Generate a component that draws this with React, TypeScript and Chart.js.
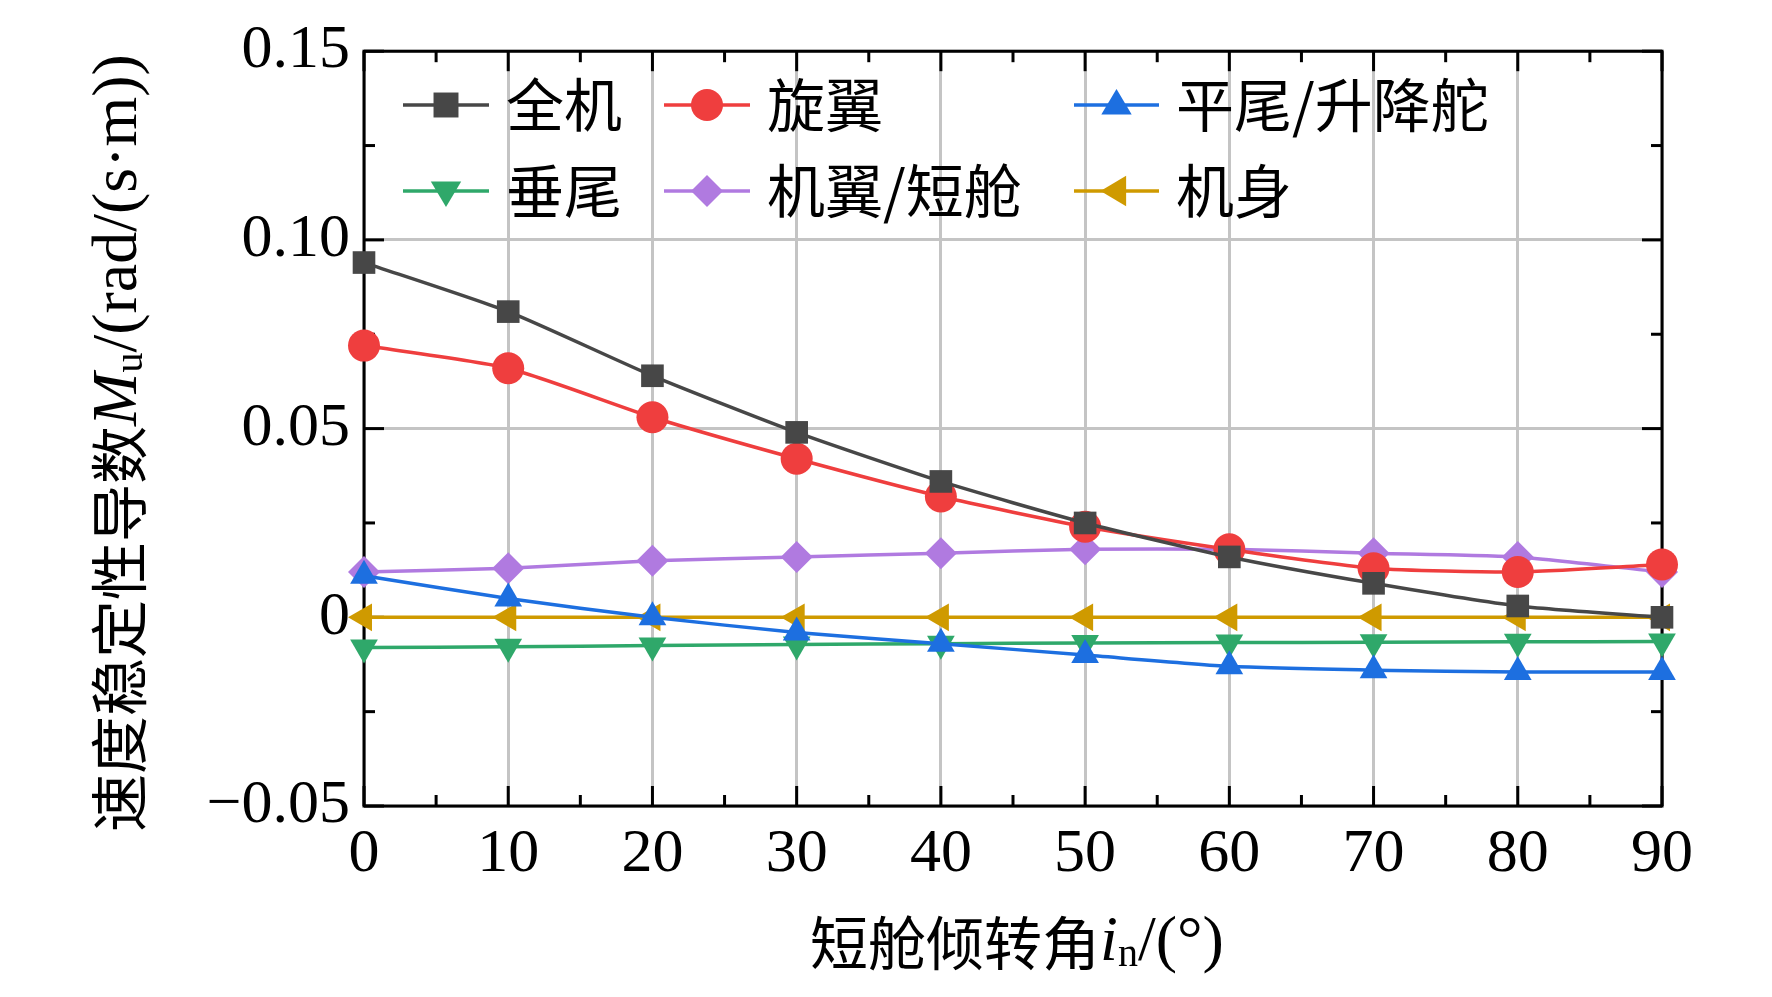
import React, { useEffect, useRef } from "react";
import { Chart, registerables } from "chart.js";
Chart.register(...registerables);

const angles = [0, 10, 20, 30, 40, 50, 60, 70, 80, 90];
const whole = [0.094, 0.081, 0.064, 0.049, 0.036, 0.025, 0.016, 0.009, 0.003, 0.0];
const rotor = [0.072, 0.066, 0.053, 0.042, 0.032, 0.024, 0.018, 0.013, 0.012, 0.014];
const htail = [0.011, 0.005, 0.0, -0.004, -0.007, -0.01, -0.013, -0.014, -0.0145, -0.0145];
const vtail = [-0.008, -0.0078, -0.0075, -0.0072, -0.007, -0.0068, -0.0067, -0.0066, -0.0065, -0.0064];
const wing = [0.012, 0.013, 0.015, 0.016, 0.017, 0.018, 0.018, 0.017, 0.016, 0.012];
const body = [0, 0, 0, 0, 0, 0, 0, 0, 0, 0];
const names = ["全机", "旋翼", "平尾/升降舵", "垂尾", "机翼/短舱", "机身"];
const colors = ["#474747", "#ef3e3e", "#1d6fe0", "#2fa86a", "#b07ae0", "#cf9a00"];
const styles = ["rect", "circle", "triangle", "triangle", "rectRot", "triangle"];
const rotations = [0, 0, 0, 180, 0, -90];
const yTicks = [-0.05, 0, 0.05, 0.1, 0.15];

const SERIF = "'Liberation Serif', 'Times New Roman', serif";
const CJK = "'Noto Sans CJK SC', sans-serif";
const R = 16;

function drawPt(ctx: any, style: string, rot: number, x: number, y: number, col: string) {
  ctx.save();
  ctx.fillStyle = col;
  ctx.translate(x, y);
  ctx.rotate((rot * Math.PI) / 180);
  ctx.beginPath();
  if (style === "circle") ctx.arc(0, 0, R, 0, Math.PI * 2);
  else if (style === "rect") { const s = R * 0.78; ctx.rect(-s, -s, 2 * s, 2 * s); }
  else if (style === "rectRot") { ctx.moveTo(0, -R); ctx.lineTo(R, 0); ctx.lineTo(0, R); ctx.lineTo(-R, 0); ctx.closePath(); }
  else { ctx.moveTo(0, -R); ctx.lineTo(R * 0.95, R * 0.6); ctx.lineTo(-R * 0.95, R * 0.6); ctx.closePath(); }
  ctx.fill();
  ctx.restore();
}

function drawParts(ctx: any, parts: [string, string, number][], cx: number, cy: number) {
  let w = 0;
  for (const p of parts) { ctx.font = p[1]; w += ctx.measureText(p[0]).width; }
  let x = cx - w / 2;
  ctx.textBaseline = "middle"; ctx.textAlign = "left"; ctx.fillStyle = "#000";
  for (const p of parts) { ctx.font = p[1]; ctx.fillText(p[0], x, cy + p[2]); x += ctx.measureText(p[0]).width; }
}

export default function App() {
  const ref = useRef<HTMLCanvasElement>(null);
  useEffect(() => {
    const series = [whole, rotor, htail, vtail, wing, body];
    const decor = {
      id: "decor",
      beforeDatasetsDraw(chart: any) {
        const { ctx, chartArea: a, scales } = chart;
        const xs = scales.x, ys = scales.y;
        ctx.save();
        ctx.strokeStyle = "#000";
        ctx.lineWidth = 3;
        ctx.strokeRect(a.left, a.top, a.right - a.left, a.bottom - a.top);
        for (let v = 0; v <= 90; v += 5) {
          const px = xs.getPixelForValue(v);
          const len = v % 10 === 0 ? 20 : 11;
          ctx.beginPath(); ctx.moveTo(px, a.bottom); ctx.lineTo(px, a.bottom - len); ctx.stroke();
          ctx.beginPath(); ctx.moveTo(px, a.top); ctx.lineTo(px, a.top + len); ctx.stroke();
        }
        for (let i = 0; i <= 8; i++) {
          const v = -0.05 + i * 0.025;
          const py = ys.getPixelForValue(v);
          const len = i % 2 === 0 ? 20 : 11;
          ctx.beginPath(); ctx.moveTo(a.left, py); ctx.lineTo(a.left + len, py); ctx.stroke();
          ctx.beginPath(); ctx.moveTo(a.right, py); ctx.lineTo(a.right - len, py); ctx.stroke();
        }
        ctx.restore();
      },
      afterDraw(chart: any) {
        const { ctx } = chart;
        ctx.save();
        const rows = [105, 191];
        const cols = [[403, 489, 506], [664, 750, 767], [1074, 1159, 1176]];
        for (let i = 0; i < 6; i++) {
          const r = rows[Math.floor(i / 3)], c = cols[i % 3];
          ctx.strokeStyle = colors[i]; ctx.lineWidth = 3.5;
          ctx.beginPath(); ctx.moveTo(c[0], r); ctx.lineTo(c[1], r); ctx.stroke();
          drawPt(ctx, styles[i], rotations[i], (c[0] + c[1]) / 2, r, colors[i]);
          ctx.fillStyle = "#000";
          ctx.font = `58px ${CJK}`;
          ctx.textBaseline = "middle";
          ctx.textAlign = "left";
          ctx.fillText(names[i], c[2], r);
        }
        drawParts(ctx, [
          ["短舱倾转角", `58px ${CJK}`, 0],
          ["i", `italic 64px ${SERIF}`, 0],
          ["n", `40px ${SERIF}`, 12],
          ["/(°)", `64px ${SERIF}`, 0],
        ], 1017, 943);
        ctx.translate(119, 443);
        ctx.rotate(-Math.PI / 2);
        drawParts(ctx, [
          ["速度稳定性导数", `58px ${CJK}`, 0],
          ["M", `italic 64px ${SERIF}`, 0],
          ["u", `40px ${SERIF}`, 12],
          ["/(rad/(s·m))", `64px ${SERIF}`, 0],
        ], 0, 0);
        ctx.restore();
      },
    };
    const chart = new Chart(ref.current!, {
      type: "line",
      data: {
        labels: angles,
        datasets: series.map((d, i) => ({
          label: names[i],
          data: angles.map((a, j) => ({ x: a, y: d[j] })),
          borderColor: colors[i],
          backgroundColor: colors[i],
          borderWidth: 3.5,
          pointStyle: styles[i] as any,
          pointRotation: rotations[i],
          pointRadius: R,
          pointBorderWidth: 0,
          tension: 0.2,
          clip: false,
        })),
      },
      options: {
        animation: false,
        responsive: false,
        layout: { padding: { top: 45, right: 110, left: 0, bottom: 0 } },
        plugins: { legend: { display: false }, tooltip: { enabled: false } },
        scales: {
          x: {
            type: "linear", min: 0, max: 90,
            afterBuildTicks: (s: any) => { s.ticks = angles.map((v) => ({ value: v })); },
            afterFit: (s: any) => { s.height = 191; },
            grid: { color: "#c4c4c4", lineWidth: 3, drawTicks: false },
            border: { display: false },
            ticks: { color: "#000", font: { family: SERIF, size: 62 }, padding: 12, maxRotation: 0 },
          },
          y: {
            type: "linear", min: -0.05, max: 0.15,
            afterBuildTicks: (s: any) => { s.ticks = yTicks.map((v) => ({ value: v })); },
            afterFit: (s: any) => { s.width = 364; },
            grid: { color: "#c4c4c4", lineWidth: 3, drawTicks: false },
            border: { display: false },
            ticks: {
              color: "#000", font: { family: SERIF, size: 62 }, padding: 14,
              callback: (v: any) => (Math.abs(v) < 1e-9 ? "0" : (v < 0 ? "−" : "") + Math.abs(v).toFixed(2)),
            },
          },
        },
      },
      plugins: [decor],
    } as any);
    return () => chart.destroy();
  }, []);
  return (
    <div style={{ position: "absolute", left: 0, top: 0, background: "#fff" }}>
      <canvas ref={ref} width={1772} height={997} style={{ width: 1772, height: 997, display: "block" }} />
    </div>
  );
}
